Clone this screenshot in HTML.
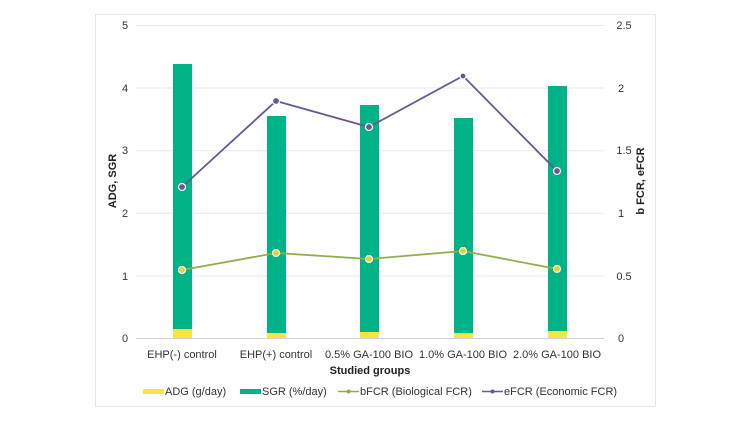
<!DOCTYPE html>
<html><head><style>
body{margin:0;background:#fff;}
svg{display:block;font-family:"Liberation Sans",Arial,sans-serif;}
</style></head><body>
<svg width="750" height="422" viewBox="0 0 750 422">
<rect x="95.5" y="14.5" width="560" height="392" fill="#fff" stroke="#dce8f0" stroke-width="1"/>
<g stroke="#e6e9ec" stroke-width="1">
<line x1="136" x2="604" y1="25.5" y2="25.5"/>
<line x1="136" x2="604" y1="88" y2="88"/>
<line x1="136" x2="604" y1="150.7" y2="150.7"/>
<line x1="136" x2="604" y1="213.3" y2="213.3"/>
<line x1="136" x2="604" y1="275.9" y2="275.9"/>
<line x1="136" x2="604" y1="338.5" y2="338.5" stroke="#d0d4d8"/>
</g>
<g font-size="11" fill="#333" text-anchor="middle">
<text x="125" y="29">5</text><text x="125" y="92">4</text><text x="125" y="154">3</text><text x="125" y="217">2</text><text x="125" y="280">1</text><text x="125" y="342">0</text>
<text x="624" y="29">2.5</text><text x="621" y="92">2</text><text x="624" y="154">1.5</text><text x="621" y="217">1</text><text x="624" y="280">0.5</text><text x="621" y="342">0</text>
</g>
<text transform="translate(116,181) rotate(-90)" font-size="11" font-weight="bold" text-anchor="middle" fill="#222">ADG, SGR</text>
<text transform="translate(644,181) rotate(-90)" font-size="11" font-weight="bold" text-anchor="middle" fill="#222">b FCR, eFCR</text>
<g fill="#00b386">
<rect x="173" y="64" width="19" height="274"/>
<rect x="267" y="116" width="19" height="222"/>
<rect x="360" y="105" width="19" height="233"/>
<rect x="454" y="118" width="19" height="220"/>
<rect x="548" y="86" width="19" height="252"/>
</g>
<g fill="#f5e642">
<rect x="173" y="329" width="19" height="9"/>
<rect x="267" y="333" width="19" height="5"/>
<rect x="360" y="332" width="19" height="6"/>
<rect x="454" y="333" width="19" height="5"/>
<rect x="548" y="331" width="19" height="7"/>
</g>
<polyline points="182,270 276,253 369,259 463,251 557,269" fill="none" stroke="#8fae4c" stroke-width="1.8"/>
<g fill="#d9d630" stroke="#fff" stroke-width="1.2">
<circle cx="182" cy="270" r="3.5"/><circle cx="276" cy="253" r="3.5"/><circle cx="369" cy="259" r="3.5"/><circle cx="463" cy="251" r="3.5"/><circle cx="557" cy="269" r="3.5"/>
</g>
<polyline points="182,187 276,101 369,127 463,76 557,171" fill="none" stroke="#6b5694" stroke-width="1.8"/>
<g fill="#6b5694" stroke="#fff" stroke-width="1.2">
<circle cx="182" cy="187" r="3.5"/><circle cx="276" cy="101" r="3.5"/><circle cx="369" cy="127" r="3.5"/><circle cx="463" cy="76" r="3"/><circle cx="557" cy="171" r="3.5"/>
</g>
<g font-size="11" fill="#333" text-anchor="middle">
<text x="182" y="358">EHP(-) control</text>
<text x="276" y="358">EHP(+) control</text>
<text x="369" y="358">0.5% GA-100 BIO</text>
<text x="463" y="358">1.0% GA-100 BIO</text>
<text x="557" y="358">2.0% GA-100 BIO</text>
</g>
<text x="370" y="374" font-size="11" font-weight="bold" text-anchor="middle" fill="#222">Studied groups</text>
<g font-size="11" fill="#333">
<rect x="143" y="389" width="21" height="5" fill="#f5e642"/><text x="165" y="395">ADG (g/day)</text>
<rect x="240" y="389" width="21" height="5" fill="#00b386"/><text x="262" y="395">SGR (%/day)</text>
<line x1="338" x2="359" y1="391.5" y2="391.5" stroke="#8fae4c" stroke-width="1.5"/><circle cx="348.5" cy="391.5" r="2" fill="#8fae4c"/><text x="360" y="395">bFCR (Biological FCR)</text>
<line x1="482" x2="503" y1="391.5" y2="391.5" stroke="#6b5694" stroke-width="1.5"/><circle cx="492.5" cy="391.5" r="2" fill="#6b5694"/><text x="504" y="395">eFCR (Economic FCR)</text>
</g>
</svg>
</body></html>
